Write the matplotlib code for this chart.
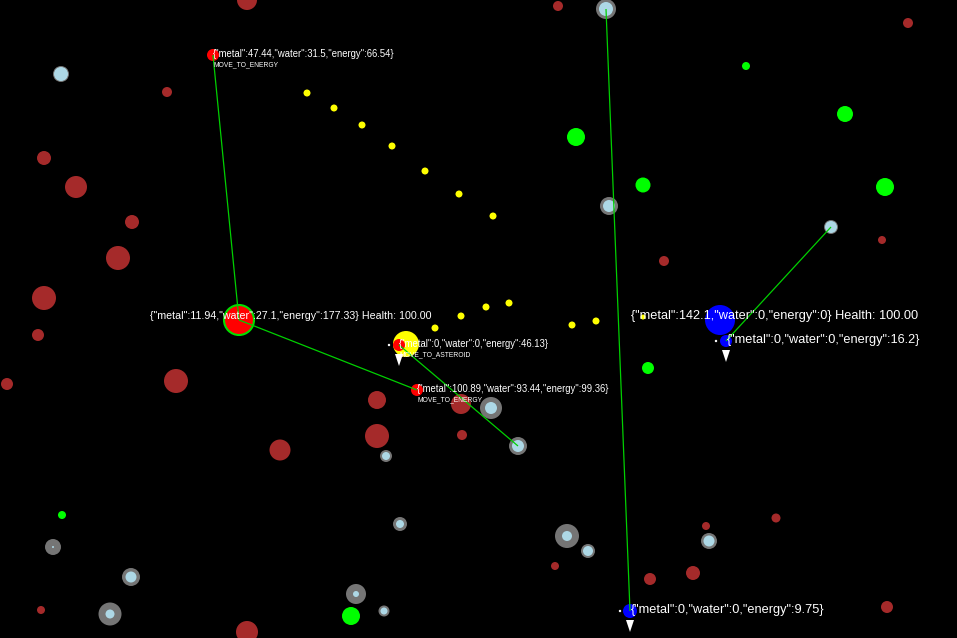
import matplotlib
matplotlib.use("Agg")
import matplotlib.pyplot as plt
from matplotlib.patches import Circle, Polygon

plt.rcParams['font.family'] = ['Liberation Sans', 'DejaVu Sans']

W, H = 957, 638

# metal asteroids (brown)
brown_x = [247, 167, 44, 76, 132, 118, 44, 38, 7, 176, 280, 41, 247, 377, 377, 461, 462,
           558, 908, 882, 664, 706, 776, 693, 650, 887, 555]
brown_y = [0, 92, 158, 187, 222, 258, 298, 335, 384, 381, 450, 610, 632, 400, 436, 404, 435,
           6, 23, 240, 261, 526, 518, 573, 579, 607, 566]
brown_r = [10, 5, 7, 11, 7, 12, 12, 6, 6, 12, 10.5, 4, 11, 9, 12, 10, 5,
           5, 5, 4, 5, 4, 4.5, 7, 6, 6, 4]

# water asteroids (grey ring, light blue core)
water_x = [61, 53, 131, 110, 386, 518, 400, 567, 588, 356, 384, 491, 606, 609, 831, 709]
water_y = [74, 547, 577, 614, 456, 446, 524, 536, 551, 594, 611, 408, 9, 206, 227, 541]
water_out = [8, 8, 9, 11.5, 6, 9, 7, 12, 7, 10, 5.5, 11, 10, 9, 7, 8]
water_in = [7, 1, 5.5, 4.5, 4, 6, 4, 5, 5, 3, 3.5, 6, 7, 6, 6, 5.5]

# energy pickups
energy_x = [746, 576, 643, 845, 885, 648, 62, 351]
energy_y = [66, 137, 185, 114, 187, 368, 515, 616]
energy_r = [4, 9, 7.5, 8, 9, 6, 4, 9]

# yellow trail dots
trail_x = [307, 334, 362, 392, 425, 459, 493, 435, 461, 486, 509, 572, 596, 643]
trail_y = [93, 108, 125, 146, 171, 194, 216, 328, 316, 307, 303, 325, 321, 317]
trail_r = [3.5, 3.5, 3.5, 3.5, 3.5, 3.5, 3.5, 3.5, 3.5, 3.5, 3.5, 3.5, 3.5, 2.5]

# yellow base
base_x, base_y, base_r = 406, 344, 13

# ships
red_x = [213, 399, 417]
red_y = [55, 345, 390]
red_r = [6, 6, 6]
red_stats = ['{"metal":47.44,"water":31.5,"energy":66.54}',
             '{"metal":0,"water":0,"energy":46.13}',
             '{"metal":100.89,"water":93.44,"energy":99.36}']
red_state = ['MOVE_TO_ENERGY', 'MOVE_TO_ASTEROID', 'MOVE_TO_ENERGY']

blue_x = [726, 630]
blue_y = [341, 611]
blue_r = [6, 7]
blue_stats = ['{"metal":0,"water":0,"energy":16.2}',
              '{"metal":0,"water":0,"energy":9.75}']

# motherships
mother_x = [239, 720]
mother_y = [320, 320]
mother_r = [15, 15]
mother_col = ['#ff0000', '#0000ff']
mother_text = ['{"metal":11.94,"water":27.1,"energy":177.33} Health: 100.00',
               '{"metal":142.1,"water":0,"energy":0} Health: 100.00']
mother_fs = [7.7, 9.2]

# target lines
link_x0 = [213, 239, 399, 606, 726]
link_y0 = [55, 320, 345, 9, 341]
link_x1 = [239, 417, 518, 630, 831]
link_y1 = [320, 390, 446, 611, 227]

fig = plt.figure(figsize=(W / 100, H / 100), dpi=100, facecolor='black')
ax = fig.add_axes([0, 0, 1, 1])
ax.set_facecolor('black')
ax.set_xlim(0, W)
ax.set_ylim(H, 0)
ax.axis('off')

for x, y, r in zip(brown_x, brown_y, brown_r):
    ax.add_patch(Circle((x, y), r, color='#a52a2a', lw=0))
for x, y, ro, ri in zip(water_x, water_y, water_out, water_in):
    ax.add_patch(Circle((x, y), ro, color='#757575', lw=0))
    ax.add_patch(Circle((x, y), ri, color='#add8e6', lw=0))
for x, y, r in zip(energy_x, energy_y, energy_r):
    ax.add_patch(Circle((x, y), r, color='#00ff00', lw=0))
for x, y, r in zip(trail_x, trail_y, trail_r):
    ax.add_patch(Circle((x, y), r, color='#ffff00', lw=0))
ax.add_patch(Circle((base_x, base_y), base_r, color='#ffff00', lw=0))

for i in range(2):
    ax.add_patch(Circle((mother_x[i], mother_y[i]), mother_r[i], color=mother_col[i], lw=0))
ax.add_patch(Circle((mother_x[0], mother_y[0]), mother_r[0], fill=False, ec='#00e000', lw=1.5))

for x, y, r in zip(red_x, red_y, red_r):
    ax.add_patch(Circle((x, y), r, color='#ff0000', lw=0))
for x, y, r in zip(blue_x, blue_y, blue_r):
    ax.add_patch(Circle((x, y), r, color='#0000ff', lw=0))

for x0, y0, x1, y1 in zip(link_x0, link_y0, link_x1, link_y1):
    ax.plot([x0, x1], [y0, y1], color='#00d000', lw=0.9, solid_capstyle='butt')

# heading arrows and thrust dots under/beside the small ships
for x, y in zip(red_x[1:2] + blue_x, red_y[1:2] + blue_y):
    ax.add_patch(Polygon([(x - 4, y + 9), (x + 4, y + 9), (x, y + 21)], closed=True, color='white', lw=0))
    ax.add_patch(Circle((x - 10, y), 1.2, color='white', lw=0))

for i in range(3):
    ax.text(red_x[i], red_y[i] + 2, red_stats[i], color='white', fontsize=6.85, va='baseline', ha='left')
    ax.text(red_x[i], red_y[i] + 11.5, red_state[i], color='white', fontsize=4.9, va='baseline', ha='left')
for i in range(2):
    ax.text(blue_x[i] + 1, blue_y[i] + 2, blue_stats[i], color='white', fontsize=9.2, va='baseline', ha='left')
for i in range(2):
    ax.text(mother_x[i] - 89, mother_y[i] - 1, mother_text[i], color='white',
            fontsize=mother_fs[i], va='baseline', ha='left')

fig.savefig('out.png', dpi=100, facecolor='black')
